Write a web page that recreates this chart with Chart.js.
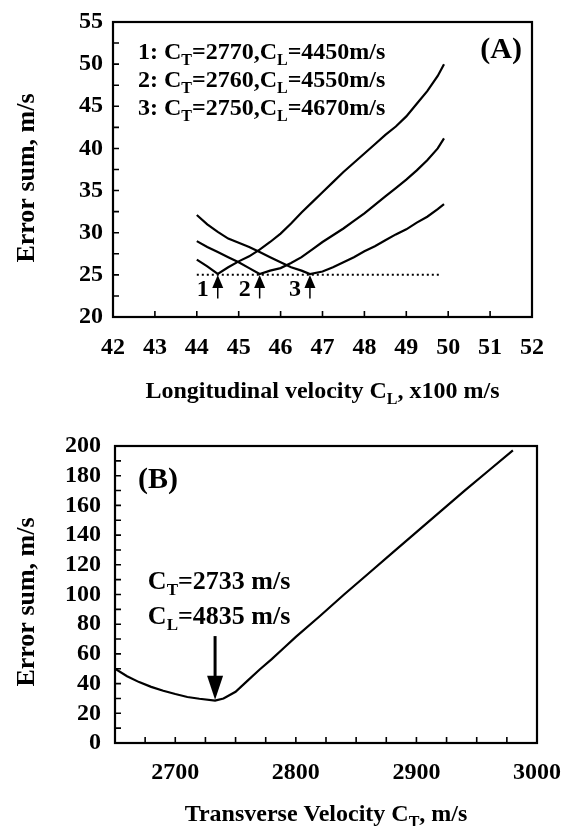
<!DOCTYPE html>
<html>
<head>
<meta charset="utf-8">
<script src="https://cdn.jsdelivr.net/npm/chart.js@4/dist/chart.umd.min.js"></script>
<style>
  html, body { margin: 0; padding: 0; background: #fff; }
  #wrap { position: relative; width: 566px; height: 826px; overflow: hidden; background: #fff; }
  canvas { position: absolute; left: 0; }
</style>
</head>
<body>
<div id="wrap">
  <canvas id="chartA" width="566" height="410" style="top:0px"></canvas>
  <canvas id="chartB" width="566" height="416" style="top:410px"></canvas>
</div>
<script>
// ---------- Panel A: error sum vs longitudinal velocity (x100 m/s) ----------
const clCurve1 = [44.0, 44.25, 44.5, 44.75, 45.0, 45.25, 45.5, 45.75, 46.0, 46.25, 46.5, 46.75, 47.0, 47.25, 47.5, 47.75, 48.0, 48.25, 48.5, 48.75, 49.0, 49.25, 49.5, 49.75, 49.9];
const errCurve1 = [26.8, 26.0, 25.1, 25.9, 26.6, 27.2, 28.0, 28.9, 29.9, 31.1, 32.4, 33.6, 34.8, 36.0, 37.2, 38.3, 39.4, 40.5, 41.6, 42.6, 43.8, 45.3, 46.8, 48.6, 50.0];

const clCurve2 = [44.0, 44.25, 44.5, 44.75, 45.0, 45.25, 45.5, 45.75, 46.0, 46.25, 46.5, 46.75, 47.0, 47.25, 47.5, 47.75, 48.0, 48.25, 48.5, 48.75, 49.0, 49.25, 49.5, 49.75, 49.9];
const errCurve2 = [29.0, 28.3, 27.7, 27.1, 26.5, 25.8, 25.1, 25.5, 25.8, 26.4, 27.1, 28.0, 28.9, 29.7, 30.5, 31.4, 32.3, 33.3, 34.3, 35.3, 36.3, 37.4, 38.6, 40.0, 41.2];

const clCurve3 = [44.0, 44.25, 44.5, 44.75, 45.0, 45.25, 45.5, 45.75, 46.0, 46.25, 46.5, 46.7, 47.0, 47.25, 47.5, 47.75, 48.0, 48.25, 48.5, 48.75, 49.0, 49.25, 49.5, 49.75, 49.9];
const errCurve3 = [32.1, 31.0, 30.1, 29.3, 28.8, 28.3, 27.7, 27.1, 26.5, 25.9, 25.5, 25.1, 25.4, 25.9, 26.5, 27.1, 27.8, 28.4, 29.1, 29.8, 30.4, 31.2, 31.9, 32.8, 33.4];

const refLineCl = [44.0, 49.8];
const refLineErr = [25.0, 25.0];

const ctLabelsA = [2770, 2760, 2750];
const clLabelsA = [4450, 4550, 4670];
const curveNumbers = ['1', '2', '3'];
const arrowBaseErr = 22.2;

const xTicksA = { min: 42, max: 52, step: 1 };
const yTicksA = { min: 20, max: 55, step: 2.5, labelEvery: 5 };

// ---------- Panel B: error sum vs transverse velocity ----------
const ctCurveB = [2650, 2660, 2670, 2680, 2690, 2700, 2710, 2720, 2733, 2740, 2750, 2760, 2770, 2780, 2790, 2800, 2820, 2840, 2860, 2880, 2900, 2920, 2940, 2960, 2980];
const errCurveB = [50, 45, 41, 37.8, 35.2, 33, 31, 29.8, 28.5, 30, 34.5, 42, 49.5, 56.5, 64, 71.5, 85.5, 100, 114, 128, 142, 156, 170, 183.5, 197];

const bestCt = 2733;
const bestCl = 4835;
const arrowTopErrB = 72;

const xTicksB = { min: 2650, max: 3000, step: 25, labelEvery: 100 };
const yTicksB = { min: 0, max: 200, step: 10, labelEvery: 20 };

// ---------- shared drawing helpers ----------
const SERIF = '"Liberation Serif", "Times New Roman", Times, serif';
const bold = size => `bold ${size}px ${SERIF}`;

function pairs(xs, ys) { return xs.map((x, i) => ({ x, y: ys[i] })); }

// draws a run of text pieces; pieces flagged as subscript are smaller and lowered
function drawRich(ctx, parts, x, y, size, align) {
  const subSize = Math.round(size * 0.66);
  const widths = parts.map(([t, sub]) => { ctx.font = bold(sub ? subSize : size); return ctx.measureText(t).width; });
  const total = widths.reduce((a, b) => a + b, 0);
  let cx = align === 'center' ? x - total / 2 : align === 'right' ? x - total : x;
  ctx.textAlign = 'left';
  ctx.textBaseline = 'middle';
  parts.forEach(([t, sub], i) => {
    ctx.font = bold(sub ? subSize : size);
    ctx.fillText(t, cx, sub ? y + size * 0.32 : y);
    cx += widths[i];
  });
}

function drawArrow(ctx, x, yFrom, yTo, shaft, headW, headH) {
  ctx.beginPath();
  ctx.lineWidth = shaft;
  ctx.moveTo(x, yFrom);
  ctx.lineTo(x, yTo + (yTo > yFrom ? -headH * 0.8 : headH * 0.8));
  ctx.stroke();
  const dir = yTo > yFrom ? -1 : 1;
  ctx.beginPath();
  ctx.moveTo(x, yTo);
  ctx.lineTo(x - headW / 2, yTo + dir * headH);
  ctx.lineTo(x + headW / 2, yTo + dir * headH);
  ctx.closePath();
  ctx.fill();
}

// plot frame plus inward tick marks for every scale tick
const framePlugin = {
  id: 'frame',
  afterDatasetsDraw(chart) {
    const { ctx, chartArea: a, scales } = chart;
    ctx.save();
    ctx.strokeStyle = '#000';
    ctx.lineWidth = 2.2;
    ctx.strokeRect(a.left, a.top, a.right - a.left, a.bottom - a.top);
    ctx.lineWidth = 1.6;
    ctx.beginPath();
    scales.x.ticks.forEach(t => {
      const px = scales.x.getPixelForValue(t.value);
      if (px <= a.left + 1 || px >= a.right - 1) return;
      ctx.moveTo(px, a.bottom); ctx.lineTo(px, a.bottom - 6);
    });
    scales.y.ticks.forEach(t => {
      const py = scales.y.getPixelForValue(t.value);
      if (py <= a.top + 1 || py >= a.bottom - 1) return;
      ctx.moveTo(a.left, py); ctx.lineTo(a.left + 6, py);
    });
    ctx.stroke();
    ctx.restore();
  }
};

function axisCommon(t, labelPadding, fixedSize, isX) {
  return {
    type: 'linear',
    min: t.min, max: t.max,
    grid: { display: false, drawTicks: false },
    border: { display: false },
    ticks: {
      stepSize: t.step,
      autoSkip: false,
      maxRotation: 0,
      minRotation: 0,
      padding: labelPadding,
      color: '#000',
      font: { family: SERIF, size: 24, weight: 'bold' },
      callback: v => (t.labelEvery ? (Math.abs(v / t.labelEvery - Math.round(v / t.labelEvery)) < 1e-6 ? v : '') : v)
    },
    afterFit(s) {
      if (isX) { s.height = fixedSize; s.paddingLeft = 0; s.paddingRight = 0; }
      else { s.width = fixedSize; s.paddingTop = 0; s.paddingBottom = 0; }
    }
  };
}

const lineStyle = { borderColor: '#000', backgroundColor: '#000', borderWidth: 2.2, pointRadius: 0, showLine: true, tension: 0, fill: false };

// ---------- Panel A ----------
const panelAText = {
  id: 'panelAText',
  afterDraw(chart) {
    const { ctx, chartArea: a, scales } = chart;
    ctx.save();
    ctx.fillStyle = '#000';
    ctx.strokeStyle = '#000';

    // legend lines listing each fit
    ctLabelsA.forEach((ct, i) => {
      drawRich(ctx, [[`${curveNumbers[i]}: `], ['C'], ['T', true], [`=${ct},`], ['C'], ['L', true], [`=${clLabelsA[i]}m/s`]],
        a.left + 25, 53 + i * 28, 24, 'left');
    });

    // panel tag
    ctx.font = bold(30);
    ctx.textAlign = 'right';
    ctx.textBaseline = 'middle';
    ctx.fillText('(A)', a.right - 10, 50);

    // arrows marking each minimum
    const curves = [errCurve1, errCurve2, errCurve3];
    clLabelsA.forEach((cl, i) => {
      const v = cl / 100;
      const px = scales.x.getPixelForValue(v);
      const tip = scales.y.getPixelForValue(Math.min(...curves[i])) + 1;
      const base = scales.y.getPixelForValue(arrowBaseErr);
      ctx.lineWidth = 1.5;
      drawArrow(ctx, px, base, tip, 1.5, 11, 13);
      ctx.font = bold(24);
      ctx.textAlign = 'center';
      ctx.textBaseline = 'middle';
      ctx.fillText(curveNumbers[i], px - 15, base - 9);
    });

    // axis titles
    drawRich(ctx, [['Longitudinal velocity C'], ['L', true], [', x100 m/s']], (a.left + a.right) / 2, 392, 24, 'center');
    ctx.save();
    ctx.translate(27, 178);
    ctx.rotate(-Math.PI / 2);
    drawRich(ctx, [['Error sum, m/s']], 0, 0, 26, 'center');
    ctx.restore();

    ctx.restore();
  }
};

new Chart(document.getElementById('chartA'), {
  type: 'scatter',
  data: {
    datasets: [
      { ...lineStyle, data: pairs(clCurve1, errCurve1) },
      { ...lineStyle, data: pairs(clCurve2, errCurve2) },
      { ...lineStyle, data: pairs(clCurve3, errCurve3) },
      { ...lineStyle, borderWidth: 2, borderDash: [2, 3], data: pairs(refLineCl, refLineErr) }
    ]
  },
  options: {
    responsive: false,
    animation: false,
    devicePixelRatio: 1,
    layout: { padding: { left: 0, top: 22, right: 34, bottom: 0 } },
    plugins: { legend: { display: false }, tooltip: { enabled: false } },
    scales: {
      x: axisCommon(xTicksA, 16, 93, true),
      y: axisCommon(yTicksA, 10, 113, false)
    }
  },
  plugins: [framePlugin, panelAText]
});

// ---------- Panel B ----------
const panelBText = {
  id: 'panelBText',
  afterDraw(chart) {
    const { ctx, chartArea: a, scales } = chart;
    ctx.save();
    ctx.fillStyle = '#000';
    ctx.strokeStyle = '#000';

    ctx.font = bold(30);
    ctx.textAlign = 'left';
    ctx.textBaseline = 'middle';
    ctx.fillText('(B)', a.left + 23, 70);

    const px = scales.x.getPixelForValue(bestCt);
    drawRich(ctx, [['C'], ['T', true], [`=${bestCt} m/s`]], px + 4, 172, 26, 'center');
    drawRich(ctx, [['C'], ['L', true], [`=${bestCl} m/s`]], px + 4, 207, 26, 'center');

    const minErr = errCurveB[ctCurveB.indexOf(bestCt)];
    drawArrow(ctx, px, scales.y.getPixelForValue(arrowTopErrB), scales.y.getPixelForValue(minErr) - 1, 3, 16, 24);

    drawRich(ctx, [['Transverse Velocity C'], ['T', true], [', m/s']], (a.left + a.right) / 2, 405, 24, 'center');
    ctx.save();
    ctx.translate(27, 192);
    ctx.rotate(-Math.PI / 2);
    drawRich(ctx, [['Error sum, m/s']], 0, 0, 26, 'center');
    ctx.restore();

    ctx.restore();
  }
};

new Chart(document.getElementById('chartB'), {
  type: 'scatter',
  data: {
    datasets: [
      { ...lineStyle, data: pairs(ctCurveB, errCurveB) }
    ]
  },
  options: {
    responsive: false,
    animation: false,
    devicePixelRatio: 1,
    layout: { padding: { left: 0, top: 36, right: 29, bottom: 0 } },
    plugins: { legend: { display: false }, tooltip: { enabled: false } },
    scales: {
      x: axisCommon(xTicksB, 15, 83, true),
      y: axisCommon(yTicksB, 14, 115, false)
    }
  },
  plugins: [framePlugin, panelBText]
});
</script>
</body>
</html>
